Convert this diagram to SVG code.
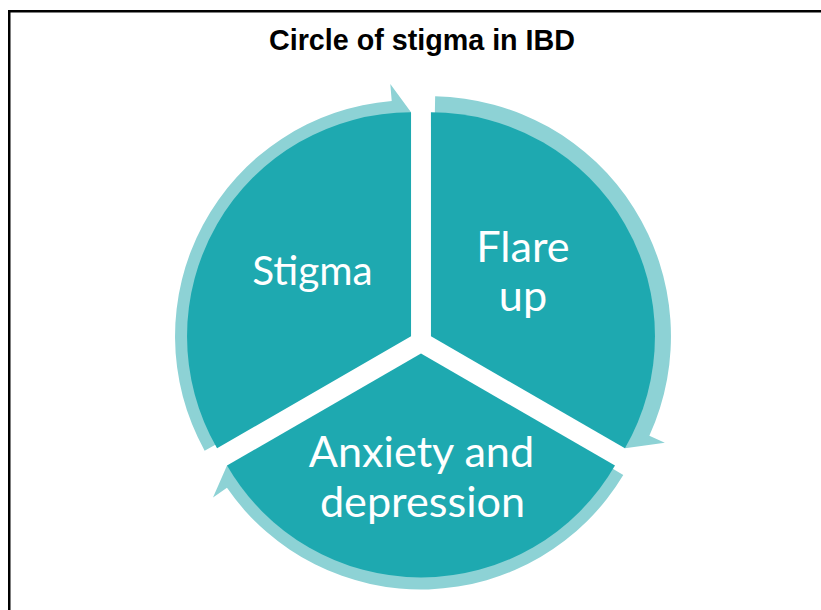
<svg xmlns="http://www.w3.org/2000/svg" width="821" height="610" viewBox="0 0 821 610">
  <style>
    .frame { fill: none; stroke: #000; stroke-width: 2.5; }
    .title { font-family: "Liberation Sans", Arial, sans-serif; font-weight: bold; font-size: 28.7px; fill: #000; text-anchor: middle; }
    .ring { fill: #8DD2D5; }
    .wedge { fill: #1EA9B0; }
    .label { font-family: Lato, "Open Sans", sans-serif; fill: #fff; text-anchor: middle; }
  </style>
  <rect width="821" height="610" fill="#fff"/>
  <rect class="frame" x="9.25" y="11.25" width="830" height="620"/>
  <text class="title" x="422" y="50">Circle of stigma in IBD</text>

  <!-- circular arrows, drawn beneath the segments -->
  <g id="connectors">
    <path class="ring" d="M204.63,450.67 A236,236 0 0 1 391.70,101.04 L390.31,84.10 L411.04,112.25 L395.06,141.91 L393.67,124.96 A212,212 0 0 0 225.62,439.03 Z"/>
    <path class="ring" d="M435.15,96.29 A240,240 0 0 1 649.35,435.78 L664.82,442.83 L624.95,448.25 L608.40,417.11 L625.69,424.99 A214,214 0 0 0 434.69,122.28 Z"/>
    <path class="ring" d="M623.29,475.05 A236,236 0 0 1 226.97,487.85 L213.00,497.53 L227.01,465.50 L260.68,464.51 L246.71,474.19 A212,212 0 0 0 602.72,462.69 Z"/>
  </g>

  <g id="stigma">
    <path class="wedge" d="M411.04,336.25 L217.05,448.25 A224,224 0 0 1 411.04,112.25 Z"/>
    <text class="label" x="312.5" y="285" font-size="40.5">Stigma</text>
  </g>

  <g id="flare-up">
    <path class="wedge" d="M430.96,336.25 L430.96,112.25 A224,224 0 0 1 624.95,448.25 Z"/>
    <text class="label" x="523" y="262" font-size="43.2">Flare</text>
    <text class="label" x="523" y="311" font-size="43.2">up</text>
  </g>

  <g id="anxiety-depression">
    <path class="wedge" d="M421,353.5 L614.99,465.5 A224,224 0 0 1 227.01,465.5 Z"/>
    <text class="label" x="421.5" y="466.5" font-size="43.2">Anxiety and</text>
    <text class="label" x="422.5" y="516.5" font-size="43.2">depression</text>
  </g>
</svg>
